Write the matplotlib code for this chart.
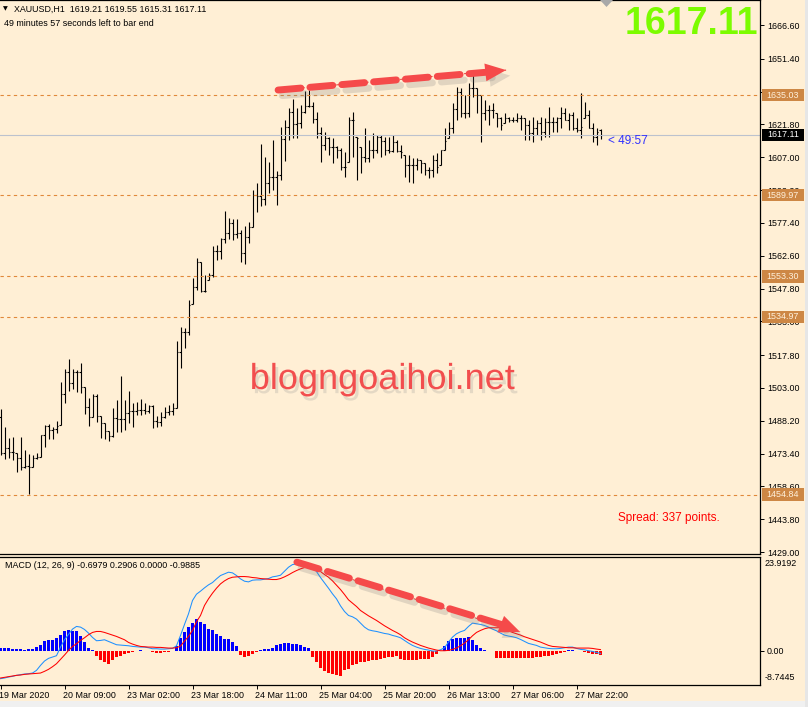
import numpy as np
import matplotlib.pyplot as plt
import matplotlib.patheffects as pe
from matplotlib.patches import Rectangle, Polygon

plt.rcParams['font.family'] = ['Liberation Sans', 'DejaVu Sans']

# ---- XAUUSD H1 bars ----
highs = [
    1493.5, 1485.3, 1480.4, 1480.8, 1473.6, 1480.8, 1475.0, 1473.2, 1472.7, 1473.6,
    1481.7, 1486.2, 1486.7, 1485.3, 1488.0, 1505.6, 1511.5, 1516.0, 1511.5, 1511.0,
    1514.2, 1503.4, 1498.4, 1500.2, 1500.2, 1490.3, 1487.1, 1483.5, 1493.9, 1497.5,
    1508.3, 1497.5, 1501.6, 1496.2, 1496.6, 1498.0, 1496.2, 1495.3, 1495.3, 1490.3,
    1492.1, 1494.4, 1495.3, 1496.2, 1524.1, 1530.4, 1530.0, 1542.6, 1552.5, 1561.5,
    1559.7, 1553.9, 1554.8, 1566.9, 1567.4, 1570.5, 1582.7, 1579.6, 1579.1, 1579.1,
    1574.2, 1576.0, 1577.8, 1592.2, 1595.4, 1613.0, 1607.1, 1604.8, 1614.7, 1600.8,
    1620.6, 1623.8, 1629.2, 1633.2, 1629.2, 1630.5, 1636.8, 1637.3, 1631.9, 1627.4,
    1620.6, 1618.3, 1616.1, 1615.6, 1612.0, 1611.1, 1609.3, 1625.1, 1627.4, 1616.1,
    1611.6, 1620.2, 1614.7, 1617.9, 1617.0, 1617.0, 1616.1, 1616.1, 1617.0, 1614.7,
    1612.5, 1608.0, 1608.0, 1606.6, 1606.6, 1605.7, 1604.4, 1602.6, 1608.0, 1608.9,
    1610.2, 1620.2, 1622.9, 1631.4, 1638.6, 1638.2, 1635.0, 1640.4, 1644.1, 1638.2,
    1635.0, 1632.8, 1630.5, 1631.4, 1626.9, 1625.1, 1626.9, 1625.1, 1625.1, 1626.9,
    1626.0, 1624.7, 1623.8, 1625.1, 1623.8, 1625.1, 1624.7, 1629.6, 1625.1, 1625.1,
    1629.6, 1629.2, 1626.9, 1627.4, 1624.7, 1635.9, 1631.9, 1628.3, 1622.4, 1620.2,
    1619.55]
lows = [
    1472.7, 1470.9, 1471.4, 1470.5, 1465.0, 1466.0, 1466.8, 1455.1, 1467.3, 1470.9,
    1471.8, 1476.3, 1479.9, 1479.9, 1482.6, 1486.2, 1496.2, 1501.6, 1502.5, 1501.1,
    1500.7, 1491.2, 1485.8, 1489.8, 1487.6, 1480.4, 1479.9, 1479.0, 1480.8, 1483.1,
    1483.1, 1484.0, 1487.1, 1485.3, 1490.7, 1490.7, 1491.2, 1491.6, 1484.9, 1485.3,
    1485.8, 1489.4, 1490.7, 1490.7, 1493.9, 1511.9, 1521.0, 1526.8, 1540.8, 1547.1,
    1546.2, 1546.2, 1551.6, 1553.0, 1560.6, 1561.1, 1568.3, 1570.1, 1569.7, 1570.6,
    1559.7, 1558.8, 1568.3, 1575.5, 1582.3, 1585.0, 1585.4, 1590.8, 1592.2, 1585.4,
    1596.7, 1605.3, 1614.7, 1615.6, 1615.6, 1620.2, 1626.9, 1629.6, 1622.4, 1615.6,
    1604.8, 1610.2, 1608.0, 1604.4, 1606.6, 1601.2, 1598.1, 1604.8, 1607.1, 1596.7,
    1599.9, 1604.8, 1604.8, 1606.6, 1608.9, 1607.1, 1608.0, 1608.9, 1609.3, 1609.3,
    1606.6, 1598.1, 1595.8, 1595.4, 1601.2, 1599.9, 1599.0, 1597.6, 1598.1, 1599.9,
    1603.5, 1610.2, 1615.6, 1617.9, 1623.8, 1625.1, 1624.7, 1625.1, 1634.1, 1626.9,
    1613.8, 1623.8, 1621.5, 1624.7, 1620.6, 1619.3, 1622.4, 1622.9, 1622.9, 1622.9,
    1619.3, 1614.7, 1614.7, 1613.8, 1617.0, 1614.7, 1616.1, 1616.1, 1618.3, 1618.3,
    1620.2, 1623.8, 1619.3, 1619.3, 1618.3, 1615.6, 1624.7, 1620.2, 1613.8, 1612.5,
    1615.31]
closes = [
    1473.6, 1475.9, 1474.1, 1474.1, 1471.4, 1467.3, 1467.7, 1467.3, 1471.4, 1471.8,
    1481.7, 1485.8, 1484.0, 1484.4, 1485.8, 1500.2, 1510.1, 1505.2, 1510.1, 1510.1,
    1503.4, 1494.4, 1489.8, 1499.3, 1490.3, 1487.1, 1483.5, 1481.3, 1489.4, 1488.9,
    1488.9, 1491.6, 1492.6, 1492.6, 1493.0, 1493.0, 1492.6, 1494.8, 1488.0, 1487.6,
    1489.8, 1492.1, 1492.6, 1493.9, 1519.1, 1528.2, 1528.2, 1540.4, 1548.5, 1559.7,
    1546.7, 1546.7, 1553.9, 1564.7, 1564.7, 1570.1, 1572.8, 1577.3, 1572.4, 1572.8,
    1563.8, 1571.0, 1575.5, 1590.0, 1589.5, 1588.1, 1595.4, 1598.1, 1598.1, 1599.0,
    1615.2, 1620.6, 1627.4, 1622.0, 1622.4, 1627.4, 1630.1, 1630.1, 1624.2, 1617.9,
    1612.5, 1615.6, 1611.6, 1611.6, 1610.2, 1602.6, 1602.6, 1623.8, 1623.8, 1615.6,
    1607.1, 1606.6, 1610.2, 1610.2, 1616.1, 1614.3, 1610.2, 1609.8, 1613.8, 1609.8,
    1609.3, 1603.5, 1603.5, 1603.5, 1605.7, 1604.4, 1601.2, 1601.2, 1605.7, 1602.6,
    1610.2, 1614.3, 1620.2, 1628.7, 1636.4, 1626.9, 1626.9, 1638.2, 1638.2, 1635.0,
    1626.9, 1628.3, 1628.3, 1628.3, 1624.7, 1621.5, 1624.7, 1623.8, 1623.8, 1624.7,
    1624.7, 1621.5, 1617.9, 1620.2, 1622.4, 1618.3, 1622.9, 1622.9, 1622.9, 1624.7,
    1626.9, 1623.8, 1626.0, 1620.2, 1619.3, 1620.6, 1626.0, 1620.2, 1616.1, 1618.3,
    1617.11]
first_open = 1490.0
last_bar = [1619.21, 1619.55, 1615.31, 1617.11]   # O H L C of the live bar

# ---- MACD (12, 26, 9) ----
macd_line = [
    -7.13, -6.96, -6.71, -6.54, -6.28, -6.11, -5.94, -5.86, -5.69, -5.01,
    -3.74, -2.63, -1.95, -1.61, -1.27, 0.93, 2.80, 4.16, 5.52, 6.20,
    6.03, 5.43, 4.50, 3.40, 2.55, 2.63, 2.80, 2.38, 1.95, 1.53,
    1.44, 1.36, 1.27, 1.10, 1.02, 0.93, 0.93, 0.76, 0.51, 0.51,
    0.42, 0.42, 0.51, 0.59, 1.27, 3.91, 6.71, 9.42, 12.82, 14.43,
    15.20, 16.05, 16.81, 17.40, 18.34, 19.19, 19.61, 20.04, 19.87, 19.19,
    18.34, 17.74, 17.57, 18.00, 18.08, 18.08, 18.25, 18.42, 18.85, 19.02,
    19.27, 20.29, 21.31, 21.99, 22.16, 22.24, 22.33, 21.99, 21.48, 20.21,
    18.68, 17.32, 15.96, 14.52, 13.24, 11.46, 10.02, 9.00, 8.66, 8.07,
    7.05, 6.03, 5.35, 5.09, 4.92, 4.67, 4.41, 4.25, 3.91, 3.65,
    3.31, 2.63, 1.95, 1.36, 0.93, 0.59, 0.34, 0.17, -0.08, -0.08,
    0.25, 0.76, 2.21, 3.48, 4.33, 4.84, 5.18, 6.20, 7.05, 6.88,
    6.71, 6.45, 6.03, 5.52, 5.09, 4.50, 3.99, 3.74, 3.57, 3.31,
    2.89, 2.38, 1.87, 1.61, 1.36, 0.93, 0.76, 0.59, 0.51, 0.51,
    0.59, 0.76, 0.93, 0.93, 0.59, 0.34, 0.25, 0.00, -0.17, -0.42,
    -0.6979]
signal_line = [
    -6.96, -6.79, -6.62, -6.45, -6.28, -6.20, -6.03, -5.94, -5.86, -5.77,
    -5.69, -5.26, -4.75, -4.08, -3.31, -2.21, -1.10, 0.08, 1.10, 1.78,
    2.63, 3.31, 4.08, 4.67, 4.92, 4.92, 4.67, 4.33, 3.99, 3.65,
    3.23, 2.80, 2.12, 1.70, 1.36, 1.10, 1.02, 0.93, 0.93, 0.85,
    0.85, 0.76, 0.68, 0.68, 0.76, 1.19, 2.46, 3.65, 5.18, 7.39,
    9.00, 11.55, 13.24, 14.69, 15.96, 17.06, 17.83, 18.42, 18.76, 18.85,
    18.93, 18.93, 18.85, 18.68, 18.59, 18.42, 18.34, 18.25, 18.17, 18.17,
    18.42, 18.85, 19.36, 19.95, 20.46, 20.89, 21.23, 21.39, 21.48, 20.89,
    20.21, 19.44, 18.76, 17.83, 16.73, 15.62, 14.35, 12.99, 12.14, 11.29,
    10.27, 9.59, 8.91, 8.32, 7.73, 7.05, 6.37, 5.77, 5.18, 4.67,
    4.08, 3.31, 2.72, 2.21, 1.78, 1.36, 1.02, 0.68, 0.42, 0.17,
    0.00, 0.00, 0.08, 0.34, 0.68, 1.27, 1.95, 2.80, 3.82, 4.67,
    5.18, 5.60, 5.86, 5.86, 5.86, 5.86, 5.52, 5.09, 4.67, 4.33,
    3.99, 3.57, 3.23, 2.89, 2.55, 2.21, 1.78, 1.36, 1.10, 1.02,
    0.93, 0.85, 0.76, 0.76, 0.68, 0.68, 0.68, 0.68, 0.59, 0.42,
    0.2906]
hist = [
    0.76, 0.76, 0.68, 0.51, 0.34, 0.34, 0.25, 0.34, 0.34, 0.93,
    1.36, 2.46, 2.63, 2.80, 3.31, 3.91, 4.92, 5.18, 5.01, 4.92,
    3.65, 2.21, 0.76, 0.17, -1.44, -2.46, -2.89, -3.31, -2.46, -1.61,
    -1.44, -0.93, -0.51, -0.34, -0.17, 0.08, -0.08, -0.08, -0.34, -0.59,
    -0.59, -0.42, -0.25, -0.17, 1.10, 3.31, 4.75, 6.03, 7.13, 8.15,
    7.30, 6.71, 5.43, 5.18, 4.33, 3.74, 3.06, 3.06, 2.21, 1.10,
    -1.19, -1.61, -1.44, -0.93, -0.34, 0.25, 0.42, 0.51, 0.76, 1.36,
    1.61, 1.95, 1.95, 1.78, 1.61, 1.36, 0.93, 0.76, -1.61, -2.89,
    -4.33, -5.18, -5.69, -6.03, -6.28, -6.54, -5.01, -4.58, -3.74, -3.31,
    -2.89, -2.89, -2.63, -2.29, -2.29, -2.04, -1.78, -1.61, -1.61, -1.44,
    -2.04, -2.29, -2.29, -2.29, -2.29, -2.21, -2.12, -2.04, -1.61, -0.93,
    -0.05, 1.10, 2.46, 3.06, 3.23, 3.23, 3.31, 3.48, 2.63, 1.53,
    0.68, 0.25, 0.05, 0.03, -1.78, -1.78, -1.78, -1.78, -1.78, -1.78,
    -1.78, -1.78, -1.78, -1.78, -1.61, -1.61, -1.44, -1.44, -1.19, -0.76,
    -0.51, -0.34, 0.08, 0.08, -0.05, -0.08, -0.42, -0.59, -0.76, -0.76,
    -0.9885]
macd_max, macd_min = 23.9192, -8.7445

levels = [1635.03, 1589.97, 1553.30, 1534.97, 1454.84]
price_ticks = [1429.00, 1443.80, 1458.60, 1473.40, 1488.20, 1503.00, 1517.80, 1533.00,
               1547.80, 1562.60, 1577.40, 1592.20, 1607.00, 1621.80, 1636.60, 1651.40, 1666.60]
time_pos = [0, 16, 32, 48, 64, 80, 96, 112, 128, 144]
time_labels = ['19 Mar 2020', '20 Mar 09:00', '23 Mar 02:00', '23 Mar 18:00', '24 Mar 11:00',
               '25 Mar 04:00', '25 Mar 20:00', '26 Mar 13:00', '27 Mar 06:00', '27 Mar 22:00']

bg = '#FFEFD5'
W, H = 808, 707
fig = plt.figure(figsize=(W / 100, H / 100), dpi=100)
fig.patch.set_facecolor(bg)


def rect(x0, y0, x1, y1):
    return [x0 / W, 1 - y1 / H, (x1 - x0) / W, (y1 - y0) / H]


ax = fig.add_axes(rect(0, 0, 760, 554))
mx = fig.add_axes(rect(0, 557, 760, 685))
for a in (ax, mx):
    a.set_facecolor(bg)
    a.set_xlim(-0.125, 189.875)
    a.spines['left'].set_visible(False)
    for s in ('top', 'right', 'bottom'):
        a.spines[s].set_linewidth(0.9)
    a.yaxis.tick_right()
    a.tick_params(axis='y', direction='out', length=3, width=0.7, pad=2, labelsize=6.4)
ax.set_xticks([])

# price bars
x = np.arange(len(closes))
hi = np.array(highs)
lo = np.array(lows)
cl = np.array(closes)
op = np.r_[first_open, cl[:-1]]
op[-1] = last_bar[0]
op = np.clip(op, lo, hi)
ax.vlines(x, lo, hi, color='black', lw=0.8)
ax.hlines(op, x - 0.45, x, color='black', lw=0.8)
ax.hlines(cl, x, x + 0.45, color='black', lw=0.8)
ax.set_ylim(1428.1, 1677.9)
ax.set_yticks(price_ticks)
ax.set_yticklabels([f'{p:.2f}' for p in price_ticks])

for lv in levels:
    ax.axhline(lv, color='#E0883A', lw=0.8, ls=(0, (3, 3)))
    ax.add_patch(Rectangle((1.0025, lv - 2.8), 0.055, 5.6, transform=ax.get_yaxis_transform(),
                           fc='#CD8745', ec='none', clip_on=False, zorder=5))
    ax.text(1.03, lv, f'{lv:.2f}', transform=ax.get_yaxis_transform(), ha='center', va='center',
            fontsize=6.4, color='#FFF1DC', clip_on=False, zorder=6)

last = last_bar[3]
ax.axhline(last, color='#BCC2CE', lw=0.8)
ax.add_patch(Rectangle((1.0025, last - 2.8), 0.055, 5.6, transform=ax.get_yaxis_transform(),
                       fc='black', ec='none', clip_on=False, zorder=5))
ax.text(1.03, last, f'{last:.2f}', transform=ax.get_yaxis_transform(), ha='center', va='center',
        fontsize=6.4, color='white', clip_on=False, zorder=6)
ax.text(151.8, last - 2.6, '< 49:57', fontsize=8.5, color='#3030FF', va='center', ha='left')

# MACD panel
hv = np.array(hist)
mx.bar(x, hv, width=0.75, color=np.where(hv > 0, '#0000FF', '#FF0000'), linewidth=0)
mx.plot(x, macd_line, color='#1E90FF', lw=0.75)
mx.plot(x, signal_line, color='#FF0000', lw=0.75)
mx.set_ylim(macd_min, macd_max)
mx.set_yticks([0])
mx.set_yticklabels(['0.00'])
mx.text(1.006, 0.985, f'{macd_max:.4f}', transform=mx.transAxes, fontsize=6.4, va='top', ha='left')
mx.text(1.006, 0.02, f'{macd_min:.4f}', transform=mx.transAxes, fontsize=6.4, va='bottom', ha='left')
mx.set_xticks(time_pos)
mx.tick_params(axis='x', direction='out', length=3, width=0.7, labelbottom=False)
for p, lab in zip(time_pos, time_labels):
    mx.text(p - 0.35, -0.085, lab, transform=mx.get_xaxis_transform(), ha='left', va='center',
            fontsize=6.4)
mx.text(0.006, 0.93, 'MACD (12, 26, 9) ' + ' '.join(f'{v:.4f}' for v in
        [macd_line[-1], signal_line[-1], 0.0, hist[-1]]),
        transform=mx.transAxes, fontsize=6.4, va='center', ha='left')

# header texts
fig.text(3 / W, 1 - 9 / H, '▼', fontsize=4.5, family='DejaVu Sans', va='center')
fig.text(14 / W, 1 - 9 / H, 'XAUUSD,H1  ' + ' '.join(f'{v:.2f}' for v in last_bar),
         fontsize=6.4, va='center')
fig.text(4 / W, 1 - 23 / H, '49 minutes 57 seconds left to bar end', fontsize=6.4, va='center')
fig.text(758 / W, 1 - 24 / H, f'{last:.2f}', fontsize=27, weight='bold', color='#7CFC00',
         ha='right', va='center')
fig.text(382 / W, 1 - 389 / H, 'blogngoaihoi.net', fontsize=26, color='#F24E4E', ha='center',
         va='baseline',
         path_effects=[pe.withSimplePatchShadow(offset=(2, -3), shadow_rgbFace='#888888', alpha=0.22)])
fig.text(618 / W, 1 - 518 / H, 'Spread: 337 points.', fontsize=8.5, color='#FF0000', va='center')


def dash_arrow(a, p0, p1, tip):
    red = '#F54A4A'
    shadow = [pe.SimpleLineShadow(offset=(3, -4), shadow_color='#777777', alpha=0.22), pe.Normal()]
    a.plot([p0[0], tip[0]], [p0[1], tip[1]], color='#E02020', lw=0.6, ls=(0, (4, 3)), zorder=6,
           clip_on=False)
    a.plot([p0[0], p1[0]], [p0[1], p1[1]], color=red, lw=5, dashes=(3.3, 1.3),
           dash_capstyle='round', path_effects=shadow, zorder=7, clip_on=False)
    a.annotate('', xy=tip, xytext=p1,
               arrowprops=dict(arrowstyle='-|>,head_length=0.75,head_width=0.32', mutation_scale=20,
                               lw=0, color=red, shrinkA=0, shrinkB=0,
                               path_effects=[pe.withSimplePatchShadow(offset=(3, -4),
                                                                      shadow_rgbFace='#777777',
                                                                      alpha=0.22)]),
               zorder=7, annotation_clip=False)


dash_arrow(ax, (69.4, 1637.3), (121.9, 1645.4), (126.4, 1646.3))
dash_arrow(mx, (74.1, 22.6), (125.5, 6.6), (129.9, 4.8))

# terminal decorations
fig.patches.append(Polygon([(600 / W, 1.0), (613 / W, 1.0), (606.5 / W, 1 - 7 / H)],
                           closed=True, transform=fig.transFigure, fc='#A8A8A8', ec='none'))
fig.patches.append(Rectangle((0, 0), 1, 6 / H, transform=fig.transFigure, fc='#F0F0F0', ec='none'))
fig.patches.append(Rectangle((805 / W, 0), 3 / W, 1, transform=fig.transFigure, fc='#E6E6E6',
                             ec='none'))

fig.savefig('out.png', dpi=100, facecolor=bg)
